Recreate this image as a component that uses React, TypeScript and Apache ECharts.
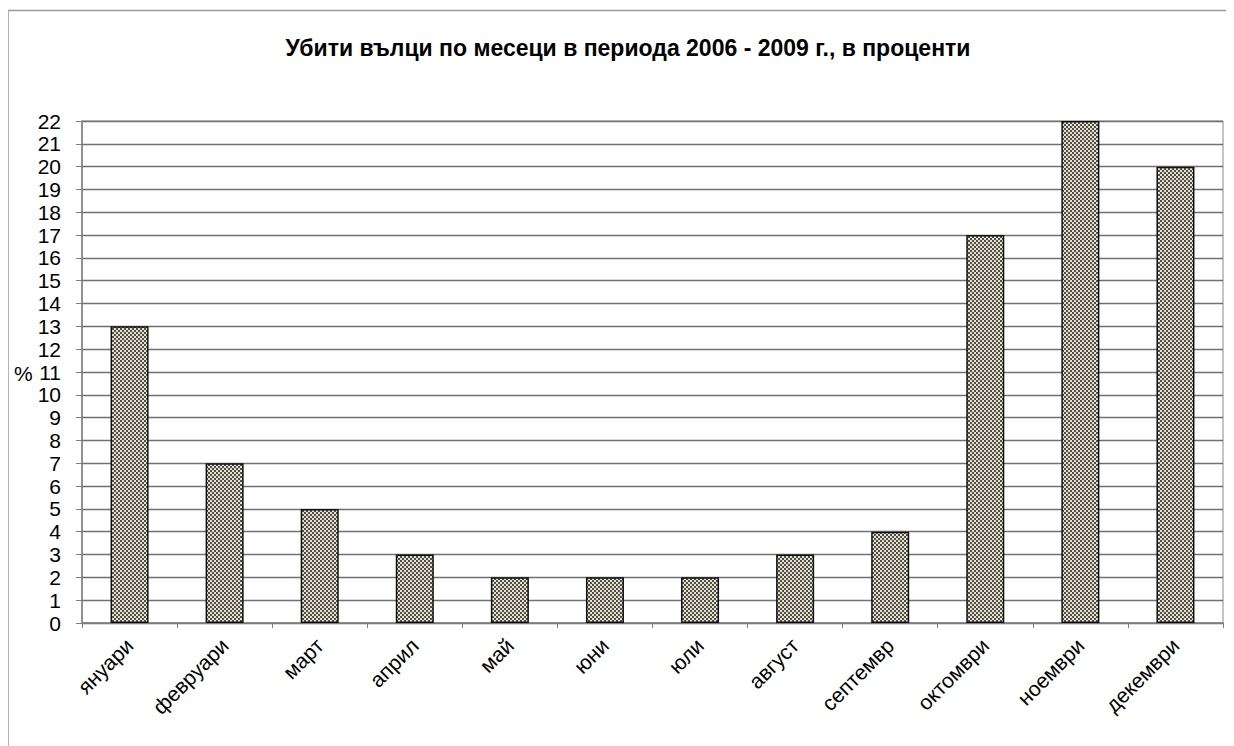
import React, { useEffect, useRef } from "react";
import * as echarts from "echarts";

const TITLE = "Убити вълци по месеци в периода 2006 - 2009 г., в проценти";
const months = [
  "януари", "февруари", "март", "април", "май", "юни",
  "юли", "август", "септемвр", "октомври", "ноември", "декември",
];
const percents = [13, 7, 5, 3, 2, 2, 2, 3, 4, 17, 22, 20];
const yMin = 0;
const yMax = 22;
const yStep = 1;
const yAxisName = "%";

function makePattern(): string {
  const c = document.createElement("canvas");
  c.width = 4;
  c.height = 4;
  const ctx = c.getContext("2d")!;
  ctx.fillStyle = "#e4e1d2";
  ctx.fillRect(0, 0, 4, 4);
  ctx.fillStyle = "#4f4f46";
  ctx.fillRect(0, 0, 2, 2);
  ctx.fillRect(2, 2, 2, 2);
  return c.toDataURL();
}

export default function App() {
  const ref = useRef<HTMLDivElement>(null);
  useEffect(() => {
    if (!ref.current) return;
    const chart = echarts.init(ref.current, null, { renderer: "svg" });
    const pattern = makePattern();
    const font = "Arial, 'Liberation Sans', sans-serif";
    chart.setOption({
      animation: false,
      backgroundColor: "#ffffff",
      textStyle: { fontFamily: font },
      graphic: [
        {
          type: "rect",
          shape: { x: 0, y: 2.5, width: 1400, height: 1000 },
          style: { fill: "none", stroke: "#9a9a9a", lineWidth: 1.5 },
          silent: true,
        },
        {
          type: "text",
          x: 620,
          y: 40,
          style: {
            text: TITLE,
            font: `bold 23px ${font}`,
            fill: "#000",
            align: "center",
            verticalAlign: "middle",
          },
        },
        {
          type: "text",
          x: 6,
          y: 365,
          style: {
            text: yAxisName,
            font: `21px ${font}`,
            fill: "#000",
            verticalAlign: "middle",
          },
        },
      ],
      grid: {
        left: 74,
        top: 113,
        right: 11,
        bottom: 123,
        show: true,
        borderColor: "#8a8a8a",
        borderWidth: 1,
      },
      xAxis: {
        type: "category",
        data: months,
        axisLine: { lineStyle: { color: "#808080", width: 1.5 } },
        axisTick: { show: true, alignWithLabel: false, length: 5, lineStyle: { color: "#808080" } },
        axisLabel: {
          rotate: 45,
          fontSize: 21,
          color: "#000",
          margin: 19,
          fontFamily: font,
        },
      },
      yAxis: {
        type: "value",
        min: yMin,
        max: yMax,
        interval: yStep,
        axisLine: { show: true, lineStyle: { color: "#808080", width: 1.5 } },
        axisTick: { show: true, length: 6, lineStyle: { color: "#808080" } },
        axisLabel: { fontSize: 21, color: "#000", margin: 21, fontFamily: font },
        splitLine: { show: true, lineStyle: { color: "#707070", width: 1.4 } },
      },
      series: [
        {
          type: "bar",
          data: percents,
          barWidth: "40%",
          itemStyle: {
            color: { image: pattern, repeat: "repeat" },
            borderColor: "#111",
            borderWidth: 1.5,
          },
        },
      ],
    });
    return () => chart.dispose();
  }, []);
  return <div ref={ref} style={{ width: 1226, height: 738 }} />;
}
